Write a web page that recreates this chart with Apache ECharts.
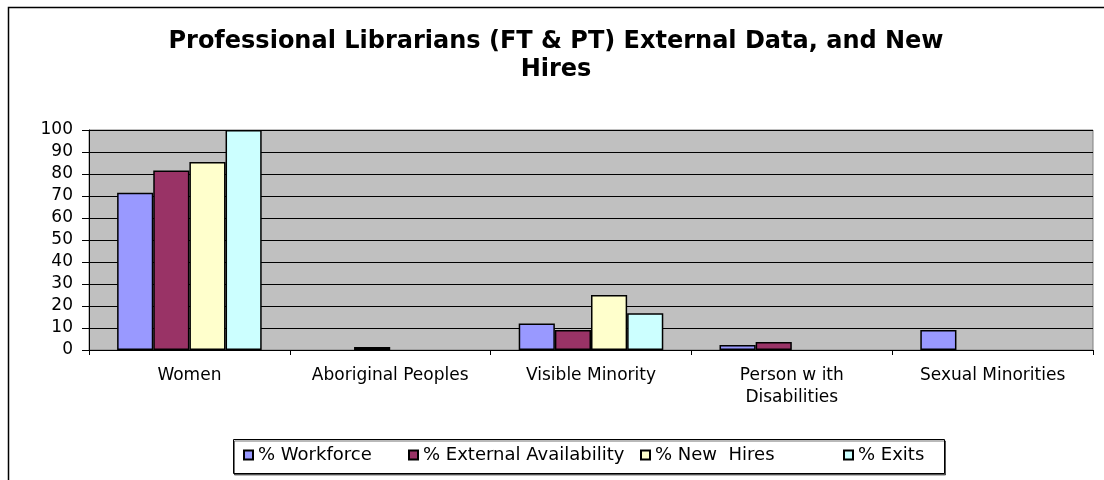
<!DOCTYPE html>
<html>
<head>
<meta charset="utf-8">
<script src="https://cdn.jsdelivr.net/npm/echarts@6/dist/echarts.min.js"></script>
<style>html,body{margin:0;padding:0;background:#fff}#c{width:1104px;height:480px}</style>
</head>
<body>
<div id="c"></div>
<script>
const categories = ["Women", "Aboriginal Peoples", "Visible Minority", "Person w ith\nDisabilities", "Sexual Minorities"];
const seriesNames = ["% Workforce", "% External Availability", "% New  Hires", "% Exits"];
const workforce = [71.5, null, 12.1, 2.3, 9.1];
const externalAvailability = [81.6, 1.4, 9.1, 3.6, null];
const newHires = [85.5, null, 25.0, null, null];
const exits = [100, null, 16.7, null, null];
const yTicks = [0, 10, 20, 30, 40, 50, 60, 70, 80, 90, 100];

const colors = ["#9999FF", "#993366", "#FFFFCC", "#CCFFFF"];
const values = [workforce, externalAvailability, newHires, exits];
const font = "'DejaVu Sans', Arial, sans-serif";
const legendLefts = [243, 408, 640, 843];

const chart = echarts.init(document.getElementById('c'), null, {renderer: 'canvas'});
chart.setOption({
  animation: false,
  backgroundColor: '#fff',
  title: {
    text: "Professional Librarians (FT & PT) External Data, and New\nHires",
    left: 551, top: 23, textAlign: 'center',
    textStyle: {fontFamily: font, fontSize: 24, fontWeight: 'bold', color: '#000', lineHeight: 28}
  },
  graphic: [{
    type: 'rect', silent: true, z: -1,
    shape: {x: 8.5, y: 7.5, width: 1200, height: 600},
    style: {fill: null, stroke: '#000', lineWidth: 1.5}
  }, {
    type: 'rect', silent: true, z: 0,
    shape: {x: 233.5, y: 439.5, width: 711, height: 34},
    style: {fill: '#fff', stroke: '#000', lineWidth: 1,
      shadowColor: 'rgba(0,0,0,0.55)', shadowOffsetX: 1, shadowOffsetY: 1.5, shadowBlur: 0}
  }],
  grid: {left: 89, right: 11, top: 130, bottom: 130, show: true, backgroundColor: '#C0C0C0', borderColor: '#808080', borderWidth: 1},
  legend: seriesNames.map((n, i) => ({
    data: [n],
    left: legendLefts[i], top: 446,
    padding: 0,
    itemWidth: 9, itemHeight: 9, itemGap: 0,
    icon: 'rect',
    z: 5,
    textStyle: {fontFamily: font, fontSize: 18, color: '#000', padding: [2, 0, 0, 0]}
  })),
  xAxis: {
    type: 'category', data: categories,
    axisLine: {lineStyle: {color: '#000'}},
    axisTick: {show: true, length: 5, alignWithLabel: false, lineStyle: {color: '#000'}},
    axisLabel: {fontFamily: font, fontSize: 17, color: '#000', margin: 15, lineHeight: 22, interval: 0}
  },
  yAxis: {
    type: 'value', min: 0, max: 100, interval: 10,
    axisLine: {show: true, lineStyle: {color: '#000'}},
    axisTick: {show: true, length: 7, lineStyle: {color: '#000'}},
    splitLine: {lineStyle: {color: '#000', width: 1}},
    axisLabel: {fontFamily: font, fontSize: 17, color: '#000', margin: 16,
      formatter: v => yTicks.includes(v) ? String(v) : ''}
  },
  series: seriesNames.map((n, i) => ({
    name: n, type: 'bar', data: values[i],
    barGap: '0%', barCategoryGap: '28%',
    itemStyle: {color: colors[i], borderColor: '#000', borderWidth: 1.5}
  }))
});
</script>
</body>
</html>
